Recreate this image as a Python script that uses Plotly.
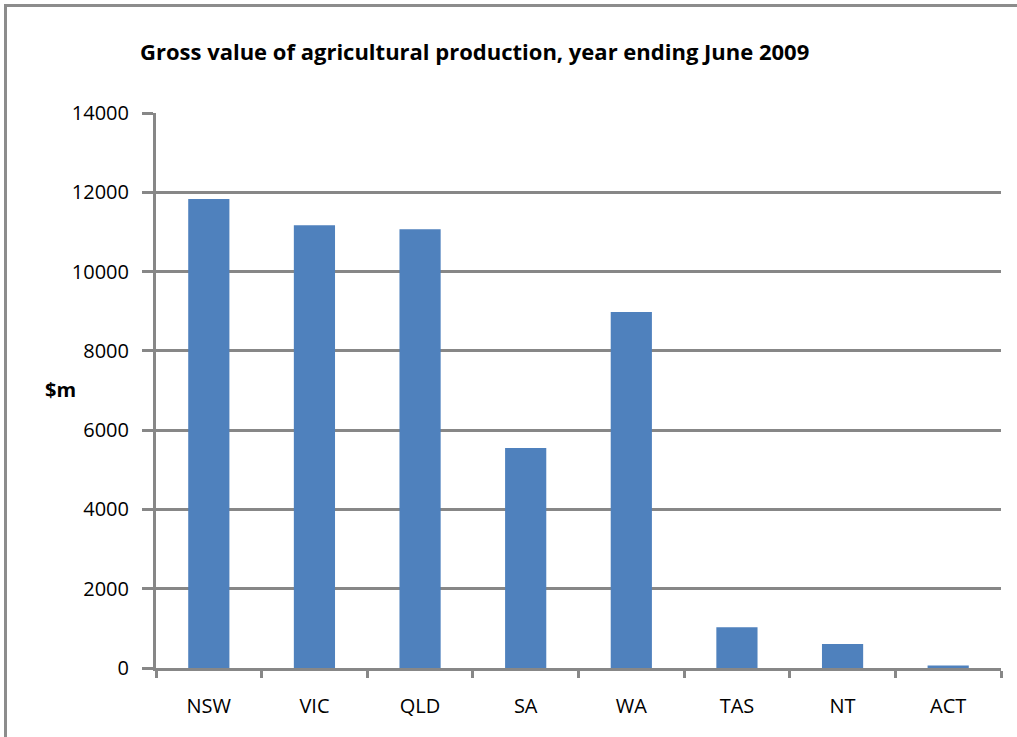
import plotly.graph_objects as go

states = ["NSW", "VIC", "QLD", "SA", "WA", "TAS", "NT", "ACT"]
values = [11830, 11170, 11070, 5550, 8980, 1030, 605, 60]
y_ticks = [0, 2000, 4000, 6000, 8000, 10000, 12000, 14000]
y_tick_labels = ["0", "2000", "4000", "6000", "8000", "10000", "12000", "14000"]

title_text = "Gross value of agricultural production, year ending June 2009"
y_title = "$m"

W, H = 1017, 737
L, R, T, B = 156, 16, 113, 69
pw, ph = W - L - R, H - T - B

def px_x(x):
    return (x - L) / pw

def px_y(y):
    return (H - B - y) / ph

grid_col = "#878787"
font_fam = "Open Sans, Noto Sans, sans-serif"

fig = go.Figure()
fig.add_trace(go.Bar(x=states, y=values, marker=dict(color="#4F81BD", line=dict(width=0)),
                     width=0.39))

fig.update_layout(
    width=W, height=H,
    margin=dict(l=L, r=R, t=T, b=B, pad=0),
    paper_bgcolor="white", plot_bgcolor="white",
    showlegend=False,
    bargap=0.61,
    title=dict(text="<b>" + title_text + "</b>", xref="container", yref="container",
               x=140 / W, xanchor="left", y=1 - 52 / H, yanchor="middle",
               font=dict(family=font_fam, size=22, color="black")),
    font=dict(family=font_fam, size=20, color="black"),
)
fig.update_xaxes(
    type="category", showgrid=False, showline=True, linecolor=grid_col, linewidth=3,
    ticks="outside", tickson="boundaries", ticklen=7, tickwidth=3, tickcolor=grid_col,
    tickfont=dict(family=font_fam, size=20), ticklabelstandoff=18,
    range=[-0.5, 7.5],
)
fig.update_yaxes(
    range=[0, 14000], tickvals=y_ticks, ticktext=y_tick_labels,
    showgrid=True, gridcolor=grid_col, gridwidth=3,
    showline=True, linecolor=grid_col, linewidth=3, zeroline=False,
    ticks="outside", ticklen=11, tickwidth=3, tickcolor=grid_col,
    tickfont=dict(family=font_fam, size=20), ticklabelstandoff=9,
)
fig.add_annotation(text="<b>" + y_title + "</b>", xref="paper", yref="paper",
                   x=px_x(60), y=px_y(389), xanchor="center", yanchor="middle",
                   showarrow=False, font=dict(family=font_fam, size=20, color="black"))
# outer chart border (left and top)
fig.add_shape(type="line", xref="paper", yref="paper",
              x0=px_x(5.5), x1=px_x(5.5), y0=px_y(H + 5), y1=px_y(5.5),
              line=dict(color="#8c8c8c", width=3))
fig.add_shape(type="line", xref="paper", yref="paper",
              x0=px_x(4), x1=px_x(W + 5), y0=px_y(5.5), y1=px_y(5.5),
              line=dict(color="#8c8c8c", width=3))

fig.write_html("out.html")
